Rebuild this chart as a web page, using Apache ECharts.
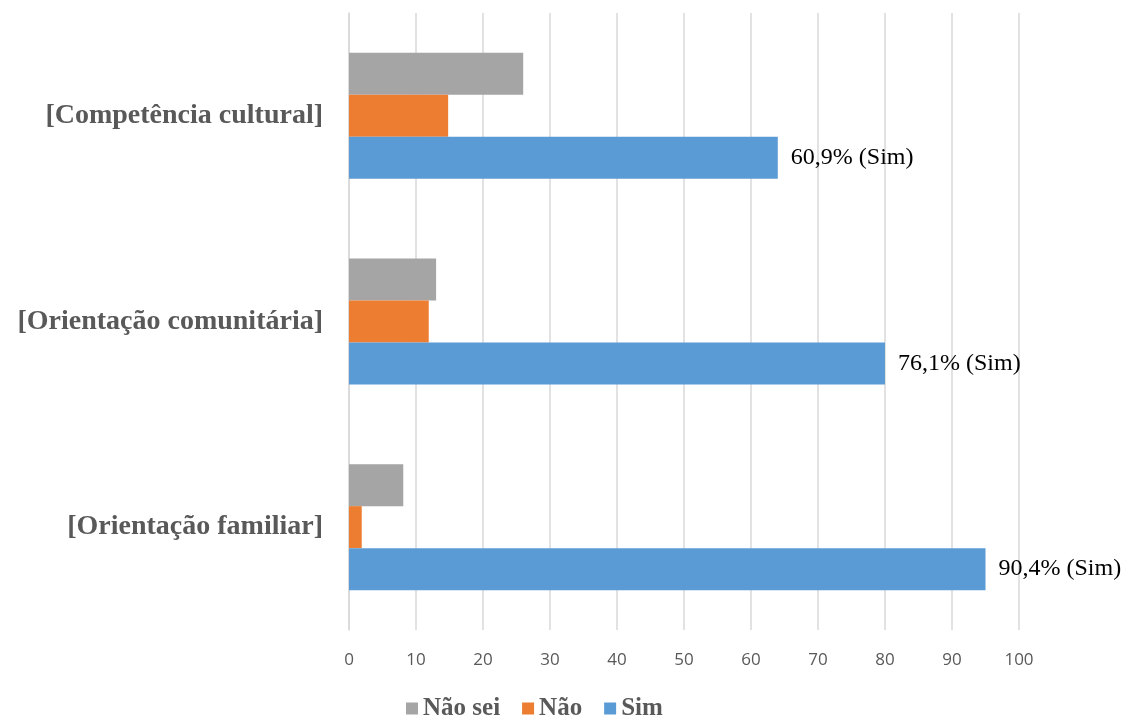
<!DOCTYPE html>
<html>
<head>
<meta charset="utf-8">
<script src="https://cdn.jsdelivr.net/npm/echarts@6/dist/echarts.min.js"></script>
<style>
  html, body { margin: 0; padding: 0; background: #fff; }
  #chart { width: 1129px; height: 724px; }
</style>
</head>
<body>
<div id="chart"></div>
<script>
// categorias, de baixo para cima
var categorias = ['[Orientação familiar]', '[Orientação comunitária]', '[Competência cultural]'];
var naoSei = [8.1, 13, 26];
var nao = [1.9, 11.9, 14.8];
var sim = [95, 80, 64];
var rotulosSim = ['90,4% (Sim)', '76,1% (Sim)', '60,9% (Sim)'];
var ticksX = [0, 10, 20, 30, 40, 50, 60, 70, 80, 90, 100];

var myChart = echarts.init(document.getElementById('chart'));

var option = {
    animation: false,
    grid: { left: 349, right: 110, top: 13, bottom: 94 },
    legend: {
        bottom: -2,
        left: 401,
        itemWidth: 12,
        itemHeight: 12,
        itemGap: 22,
        icon: 'rect',
        data: ['Não sei', 'Não', 'Sim'],
        textStyle: { fontFamily: 'Liberation Serif', fontWeight: 'bold', fontSize: 25, color: '#595959' }
    },
    xAxis: {
        type: 'value',
        min: ticksX[0],
        max: ticksX[ticksX.length - 1],
        interval: 10,
        axisLine: { show: false },
        axisTick: { show: false },
        splitLine: { lineStyle: { color: '#d9d9d9', width: 1.5 } },
        axisLabel: { color: '#595959', fontSize: 17, fontFamily: 'Open Sans', margin: 22 }
    },
    yAxis: {
        type: 'category',
        data: categorias,
        axisLine: { lineStyle: { color: '#d9d9d9', width: 1.5 } },
        axisTick: { show: false },
        axisLabel: { color: '#595959', fontSize: 28, fontWeight: 'bold', fontFamily: 'Liberation Serif', margin: 26 }
    },
    series: [
        { name: 'Não sei', type: 'bar', data: naoSei, barWidth: 42, barGap: '0%', itemStyle: { color: '#a5a5a5' } },
        { name: 'Não', type: 'bar', data: nao, barWidth: 42, barGap: '0%', itemStyle: { color: '#ed7d31' } },
        {
            name: 'Sim', type: 'bar', data: sim, barWidth: 42, barGap: '0%',
            itemStyle: { color: '#5b9bd5' },
            label: {
                show: true, position: 'right', distance: 13,
                color: '#000', fontSize: 24, fontFamily: 'Liberation Serif',
                formatter: function (p) { return rotulosSim[p.dataIndex]; }
            }
        }
    ]
};
myChart.setOption(option);
</script>
</body>
</html>
